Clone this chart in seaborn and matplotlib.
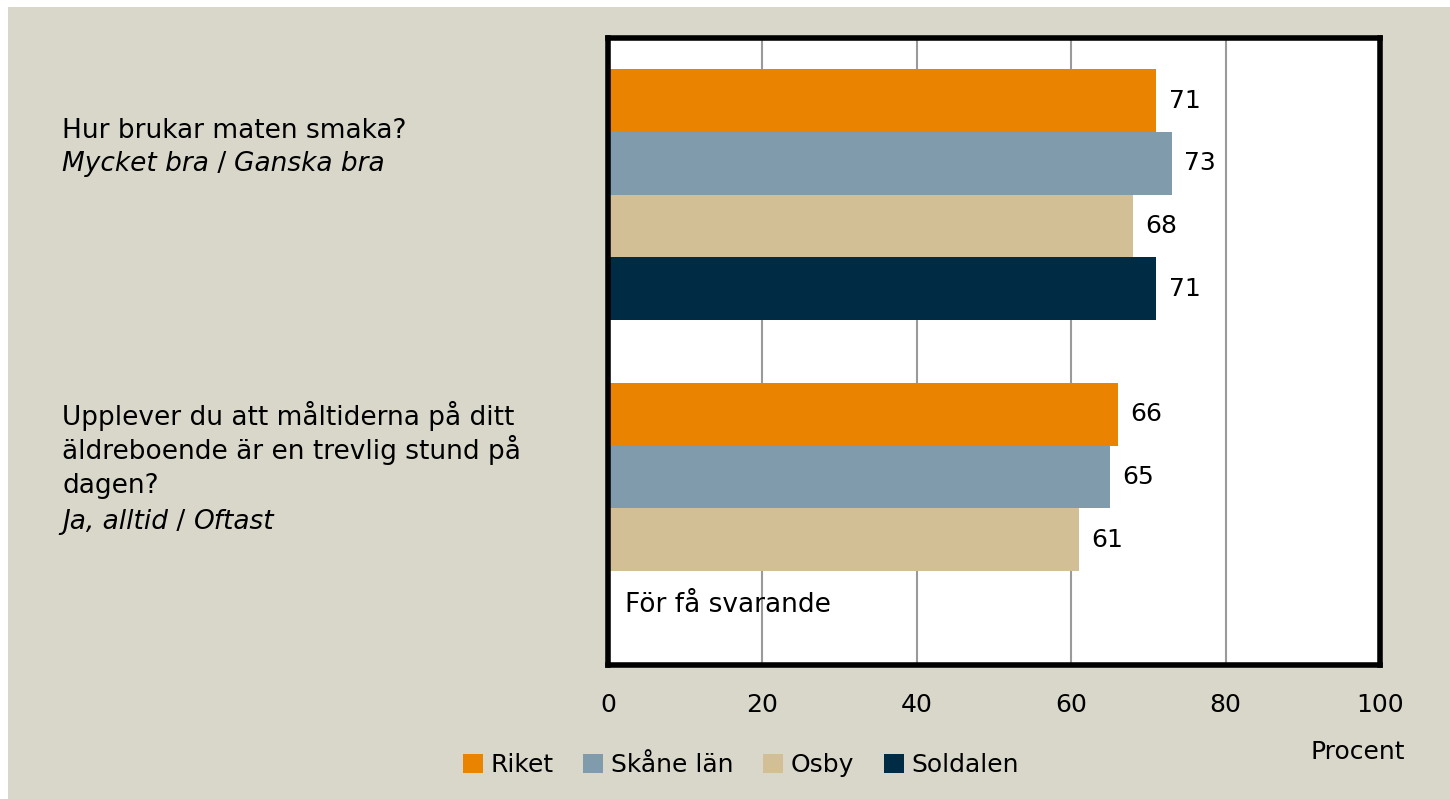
import pandas as pd
import numpy as np
import matplotlib.pyplot as plt
from matplotlib.patches import Rectangle, Patch
import seaborn as sns

# data
fragor = ["Hur brukar maten smaka?", "Upplever du att måltiderna"]
omraden = ["Riket", "Skåne län", "Osby", "Soldalen"]
fraga1 = [71, 73, 68, 71]
fraga2 = [66, 65, 61, np.nan]  # Soldalen: för få svarande
farger = ["#E98300", "#7F9BAC", "#D3BF96", "#002B45"]
xticks = [0, 20, 40, 60, 80, 100]

rows = []
for omr, v1, v2 in zip(omraden, fraga1, fraga2):
    rows.append({"fraga": fragor[0], "omrade": omr, "procent": v1})
    rows.append({"fraga": fragor[1], "omrade": omr, "procent": v2})
df = pd.DataFrame(rows)

bg = "#D9D7CA"
font = "DejaVu Sans"
fs = 18

fig = plt.figure(figsize=(14.5, 7.99), dpi=100, facecolor="white")
fig.patches.append(Rectangle((8 / 1450, 0), 1, 1 - 7 / 799, transform=fig.transFigure,
                             facecolor=bg, edgecolor="none", zorder=-10))

ax = fig.add_axes([608 / 1450, 1 - 665 / 799, 772 / 1450, 627 / 799])
sns.barplot(data=df, y="fraga", x="procent", hue="omrade", hue_order=omraden,
            palette=farger, saturation=1, orient="h", ax=ax, width=0.8,
            legend=False, zorder=3)

ax.set_facecolor("white")
ax.set_xlim(0, 100)
ax.set_ylim(1.5, -0.5)
ax.set_xticks(xticks)
ax.set_xticklabels([str(t) for t in xticks], fontsize=fs, family=font)
ax.set_yticks([])
ax.set_xlabel("")
ax.set_ylabel("")
ax.tick_params(axis="x", length=0, pad=20)
ax.grid(axis="x", color="#9a9a9a", lw=1.5, zorder=0)
for s in ax.spines.values():
    s.set_linewidth(4)
    s.set_color("black")
    s.set_zorder(5)

for c in ax.containers:
    labels = ["" if np.isnan(v) else f"{v:.0f}" for v in c.datavalues]
    ax.bar_label(c, labels=labels, padding=9, fontsize=fs, family=font)

ax.text(2.2, 1.31, "För få svarande", fontsize=19, family=font, va="center", ha="left", zorder=6)

# vänster etiketter (med kursiva delar)
renderer = fig.canvas.get_renderer()


def rad(y, delar):
    x = 62
    for text, stil in delar:
        t = fig.text(x / 1450, 1 - y / 799, text, fontsize=19, family=font,
                     style=stil, va="baseline", ha="left")
        x = t.get_window_extent(renderer).x1


rad(138, [("Hur brukar maten smaka?", "normal")])
rad(171, [("Mycket bra", "italic"), (" / ", "normal"), ("Ganska bra", "italic")])
rad(425, [("Upplever du att måltiderna på ditt", "normal")])
rad(459, [("äldreboende är en trevlig stund på", "normal")])
rad(493, [("dagen?", "normal")])
rad(529, [("Ja, alltid", "italic"), (" / ", "normal"), ("Oftast", "italic")])

handles = [Patch(facecolor=f, edgecolor="none", label=o) for f, o in zip(farger, omraden)]
fig.legend(handles=handles, loc="center", bbox_to_anchor=(741 / 1450, 1 - 765 / 799),
           ncol=4, frameon=False, prop={"family": font, "size": fs},
           handlelength=0.8, handleheight=0.8, handletextpad=0.3, columnspacing=1.2)

fig.text(1405 / 1450, 1 - 752 / 799, "Procent", fontsize=fs, family=font, ha="right", va="center")

fig.savefig("out.png", dpi=100, facecolor=fig.get_facecolor())
